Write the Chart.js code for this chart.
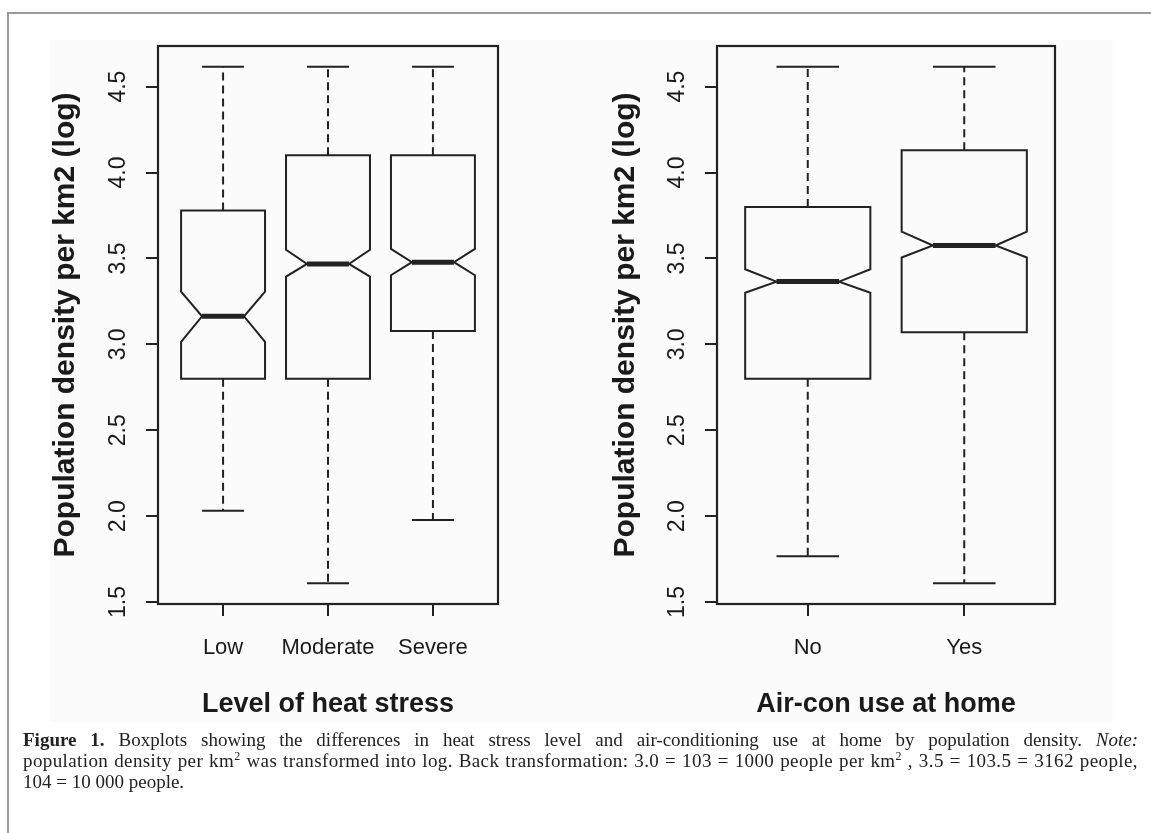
<!DOCTYPE html>
<html>
<head>
<meta charset="utf-8">
<script src="https://cdn.jsdelivr.net/npm/chart.js@4.4.1/dist/chart.umd.min.js"></script>
<style>
    html, body { margin: 0; padding: 0; background: #ffffff; overflow: hidden; }
    body { width: 1151px; height: 833px; position: relative; }
    #frame { position: absolute; left: 7px; top: 12px; width: 1200px; height: 900px; border: 2px solid #9a9a9a; box-sizing: border-box; }
    #device { position: absolute; left: 50px; top: 40px; width: 1063px; height: 682px; background: #fbfbfb; }
    .panel { position: absolute; top: 30px; width: 510px; height: 710px; }
    #panelHeat { left: 20px; }
    #panelAircon { left: 580px; }
    #caption { position: absolute; left: 23px; top: 729px; width: 1115px; font-family: 'Liberation Serif', 'DejaVu Serif', serif; font-size: 19px; line-height: 21px; color: #222; }
    #caption .ln { white-space: nowrap; }
    #caption .j { text-align: justify; text-align-last: justify; white-space: normal; }
    #caption .tight { letter-spacing: 0.4px; }
    #caption sup { font-size: 12px; line-height: 0; vertical-align: 7px; }
</style>
</head>
<body>
<div id="frame"></div>
<div id="device"></div>
<div class="panel" id="panelHeat"><canvas id="chartHeat"></canvas></div>
<div class="panel" id="panelAircon"><canvas id="chartAircon"></canvas></div>
<div id="caption">
    <div class="ln j"><b>Figure 1.</b> Boxplots showing the differences in heat stress level and air-conditioning use at home by population density. <i>Note:</i></div>
    <div class="ln j tight">population density per km<sup>2</sup> was transformed into log. Back transformation: 3.0 = 103 = 1000 people per km<sup>2</sup> , 3.5 = 103.5 = 3162 people,</div>
    <div class="ln">104 = 10 000 people.</div>
</div>
<script>
// values (log10 population density per km2)
const yTicks = [1.5, 2.0, 2.5, 3.0, 3.5, 4.0, 4.5];

const heatCategories = ['Low', 'Moderate', 'Severe'];
const heatUpper  = [4.616, 4.616, 4.616];
const heatQ3     = [3.779, 4.100, 4.100];
const heatNotchHi = [3.306, 3.550, 3.555];
const heatMedian = [3.163, 3.468, 3.478];
const heatNotchLo = [3.015, 3.394, 3.402];
const heatQ1     = [2.799, 2.799, 3.077];
const heatLower  = [2.031, 1.609, 1.978];

const airconCategories = ['No', 'Yes'];
const airconUpper  = [4.616, 4.616];
const airconQ3     = [3.799, 4.129];
const airconNotchHi = [3.437, 3.656];
const airconMedian = [3.365, 3.575];
const airconNotchLo = [3.300, 3.505];
const airconQ1     = [2.799, 3.071];
const airconLower  = [1.766, 1.609];

const FONT = "'Liberation Sans', Arial, Helvetica, sans-serif";
const INK = '#222222';

// draws the notched boxes through the chart scales
const notchedBoxPlugin = {
    id: 'notchedBox',
    afterDatasetsDraw(chart) {
        const { ctx, chartArea, scales: { x, y } } = chart;
        const pts = chart.data.datasets[0].data;
        ctx.save();
        ctx.strokeStyle = INK;
        ctx.lineJoin = 'miter';
        pts.forEach((p) => {
            const cx = x.getPixelForValue(p.x);
            const hw = x.getPixelForValue(p.x + 0.4) - cx;
            const nw = hw * 0.5;
            const yUp = y.getPixelForValue(p.upper);
            const yQ3 = y.getPixelForValue(p.q3);
            const yNh = y.getPixelForValue(p.notchHi);
            const yMd = y.getPixelForValue(p.y);
            const yNl = y.getPixelForValue(p.notchLo);
            const yQ1 = y.getPixelForValue(p.q1);
            const yLo = y.getPixelForValue(p.lower);

            // whiskers
            ctx.lineWidth = 2;
            ctx.setLineDash([8, 5]);
            ctx.beginPath();
            ctx.moveTo(cx, yQ3); ctx.lineTo(cx, yUp);
            ctx.moveTo(cx, yQ1); ctx.lineTo(cx, yLo);
            ctx.stroke();
            ctx.setLineDash([]);
            ctx.beginPath();
            ctx.moveTo(cx - nw, yUp); ctx.lineTo(cx + nw, yUp);
            ctx.moveTo(cx - nw, yLo); ctx.lineTo(cx + nw, yLo);
            ctx.stroke();

            // notched box
            ctx.beginPath();
            ctx.moveTo(cx - hw, yQ1);
            ctx.lineTo(cx - hw, yNl);
            ctx.lineTo(cx - nw, yMd);
            ctx.lineTo(cx - hw, yNh);
            ctx.lineTo(cx - hw, yQ3);
            ctx.lineTo(cx + hw, yQ3);
            ctx.lineTo(cx + hw, yNh);
            ctx.lineTo(cx + nw, yMd);
            ctx.lineTo(cx + hw, yNl);
            ctx.lineTo(cx + hw, yQ1);
            ctx.closePath();
            ctx.stroke();

            // median
            ctx.lineWidth = 5;
            ctx.beginPath();
            ctx.moveTo(cx - nw, yMd); ctx.lineTo(cx + nw, yMd);
            ctx.stroke();
        });
        // plot frame
        ctx.lineWidth = 2.2;
        ctx.strokeRect(chartArea.left, chartArea.top, chartArea.right - chartArea.left, chartArea.bottom - chartArea.top);
        ctx.restore();
    }
};

function buildPoints(upper, q3, notchHi, median, notchLo, q1, lower) {
    return median.map((m, i) => ({
        x: i + 1, y: m,
        upper: upper[i], q3: q3[i], notchHi: notchHi[i],
        notchLo: notchLo[i], q1: q1[i], lower: lower[i]
    }));
}

function renderBoxplot(canvasId, categories, points, xTitle, yAxisWidth, rightPad) {
    const n = categories.length;
    // R style limits: 4% extension on both axes
    const xMin = 0.5 - 0.04 * n, xMax = n + 0.5 + 0.04 * n;
    const lo = Math.min(...points.map(p => p.lower));
    const hi = Math.max(...points.map(p => p.upper));
    const yMin = lo - 0.04 * (hi - lo), yMax = hi + 0.04 * (hi - lo);

    return new Chart(document.getElementById(canvasId), {
        type: 'scatter',
        data: {
            datasets: [{ data: points, pointRadius: 0, pointHoverRadius: 0, showLine: false }]
        },
        options: {
            responsive: true,
            maintainAspectRatio: false,
            animation: false,
            events: [],
            layout: { padding: { top: 16, right: rightPad, left: 0, bottom: 0 } },
            plugins: { legend: { display: false }, tooltip: { enabled: false } },
            scales: {
                x: {
                    type: 'linear',
                    min: xMin, max: xMax, bounds: 'data',
                    afterBuildTicks: (s) => { s.ticks = categories.map((c, i) => ({ value: i + 1 })); },
                    afterFit: (s) => { s.height = 136; s.paddingLeft = 0; s.paddingRight = 0; },
                    grid: { drawOnChartArea: false, tickLength: 12, color: INK, lineWidth: 2 },
                    border: { display: false },
                    ticks: {
                        autoSkip: false, padding: 19, color: '#1a1a1a',
                        font: { family: FONT, size: 22 },
                        callback: (v) => categories[v - 1]
                    },
                    title: {
                        display: true, text: xTitle, color: '#1a1a1a',
                        font: { family: FONT, size: 27, weight: 'bold' },
                        padding: { top: 0, bottom: 19 }
                    }
                },
                y: {
                    type: 'linear',
                    min: yMin, max: yMax, bounds: 'data',
                    afterBuildTicks: (s) => { s.ticks = yTicks.map(v => ({ value: v })); },
                    afterFit: (s) => { s.width = yAxisWidth; s.paddingTop = 0; s.paddingBottom = 0; },
                    grid: { drawOnChartArea: false, tickLength: 12, color: INK, lineWidth: 2 },
                    border: { display: false },
                    ticks: {
                        autoSkip: false, padding: 11, color: '#1a1a1a',
                        minRotation: 90, maxRotation: 90, crossAlign: 'center',
                        font: { family: FONT, size: 23 },
                        callback: (v) => v.toFixed(1)
                    },
                    title: {
                        display: true, text: 'Population density per km2 (log)', color: '#1a1a1a',
                        font: { family: FONT, size: 30, weight: 'bold' },
                        padding: { top: 28, bottom: 0 }
                    }
                }
            }
        },
        plugins: [notchedBoxPlugin]
    });
}

renderBoxplot('chartHeat', heatCategories,
    buildPoints(heatUpper, heatQ3, heatNotchHi, heatMedian, heatNotchLo, heatQ1, heatLower),
    'Level of heat stress', 138, 32);

renderBoxplot('chartAircon', airconCategories,
    buildPoints(airconUpper, airconQ3, airconNotchHi, airconMedian, airconNotchLo, airconQ1, airconLower),
    'Air-con use at home', 137, 35);
</script>
</body>
</html>
